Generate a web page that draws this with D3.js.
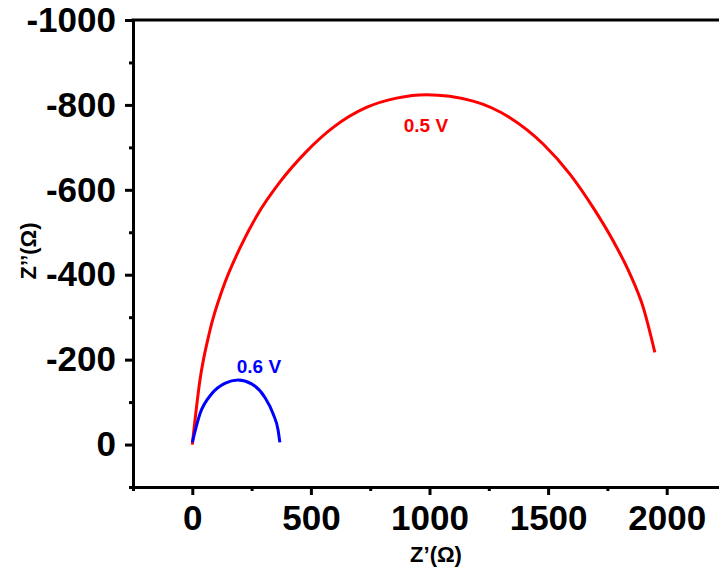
<!DOCTYPE html>
<html>
<head>
<meta charset="utf-8">
<script src="https://cdn.jsdelivr.net/npm/d3@7"></script>
<style>
  html, body { margin: 0; padding: 0; background: #fff; }
  svg { display: block; }
  text { font-family: "Liberation Sans", Arial, sans-serif; font-weight: bold; }
</style>
</head>
<body>
<svg id="chart" width="719" height="571"></svg>
<script>
// Data (Nyquist plot)
const redZre = [0, 32, 74, 130, 200, 271, 369, 481, 594, 734, 861, 987, 1184, 1339, 1479, 1592, 1690, 1774, 1845, 1901, 1950];
const redZim = [0, -151, -268, -370, -462, -538, -618, -690, -747, -794, -816, -824, -809, -770, -708, -637, -558, -480, -402, -323, -217];
const blueZre = [0, 32, 81, 137, 193, 250, 306, 341, 362, 369];
const blueZim = [-5, -72, -119, -144, -152, -143, -111, -72, -33, -5];

const xMajorTicks = [0, 500, 1000, 1500, 2000];
const xMinorTicks = [-250, 250, 750, 1250, 1750];
const yMajorTicks = [-1000, -800, -600, -400, -200, 0];
const yMinorTicks = [-900, -700, -500, -300, -100, 100];

const seriesLabels = ["0.5 V", "0.6 V"];
const labelPos = [[985, -737], [281, -168]];
const colors = ["#ff0000", "#0000ff"];

const svg = d3.select("#chart");
const mLeft = 133, mRight = 726, mTop = 20, mBottom = 487;

const x = d3.scaleLinear().domain([-250, 2250]).range([mLeft, mRight]);
const y = d3.scaleLinear().domain([-1000, 100]).range([mTop, mBottom]);

// Curves
const line = d3.line().x(d => x(d[0])).y(d => y(d[1])).curve(d3.curveMonotoneX);
const series = [d3.zip(redZre, redZim), d3.zip(blueZre, blueZim)];
series.forEach((s, i) => {
  svg.append("path").datum(s).attr("d", line)
    .attr("fill", "none").attr("stroke", colors[i]).attr("stroke-width", 3);
});

const fmt = d => String(d);

// Axes
const xAxis = svg.append("g").attr("transform", `translate(0,${mBottom})`)
  .call(d3.axisBottom(x).tickValues(xMajorTicks).tickFormat(fmt).tickSize(8).tickPadding(10).tickSizeOuter(0));
const xMinor = svg.append("g").attr("transform", `translate(0,${mBottom})`)
  .call(d3.axisBottom(x).tickValues(xMinorTicks).tickSize(4).tickFormat("").tickSizeOuter(0));
const yAxis = svg.append("g").attr("transform", `translate(${mLeft},0)`)
  .call(d3.axisLeft(y).tickValues(yMajorTicks).tickFormat(fmt).tickSize(8).tickPadding(9).tickSizeOuter(0));
const yMinor = svg.append("g").attr("transform", `translate(${mLeft},0)`)
  .call(d3.axisLeft(y).tickValues(yMinorTicks).tickSize(4).tickFormat("").tickSizeOuter(0));

[xAxis, xMinor, yAxis, yMinor].forEach(g => {
  g.selectAll("path.domain").attr("stroke", "#000").attr("stroke-width", 3);
  g.selectAll(".tick line").attr("stroke", "#000").attr("stroke-width", 3);
  g.selectAll(".tick text").attr("fill", "#000")
    .style("font-family", '"Liberation Sans", Arial, sans-serif')
    .style("font-weight", "bold").style("font-size", "35px");
});
// top frame line
svg.append("line").attr("x1", mLeft - 1.5).attr("x2", 719).attr("y1", mTop).attr("y2", mTop)
  .attr("stroke", "#000").attr("stroke-width", 3);

// Series labels
seriesLabels.forEach((t, i) => {
  svg.append("text").attr("x", x(labelPos[i][0])).attr("y", y(labelPos[i][1]))
    .attr("text-anchor", "middle").attr("fill", colors[i])
    .style("font-size", "19px").text(t);
});

// Axis titles
svg.append("text").attr("x", 436).attr("y", 562).attr("text-anchor", "middle")
  .style("font-size", "22px").attr("fill", "#000").text("Z\u2019(\u03A9)");
svg.append("text").attr("transform", "translate(36,251) rotate(-90)").attr("text-anchor", "middle")
  .style("font-size", "22px").attr("fill", "#000").text("Z\u2019\u2019(\u03A9)");
</script>
</body>
</html>
